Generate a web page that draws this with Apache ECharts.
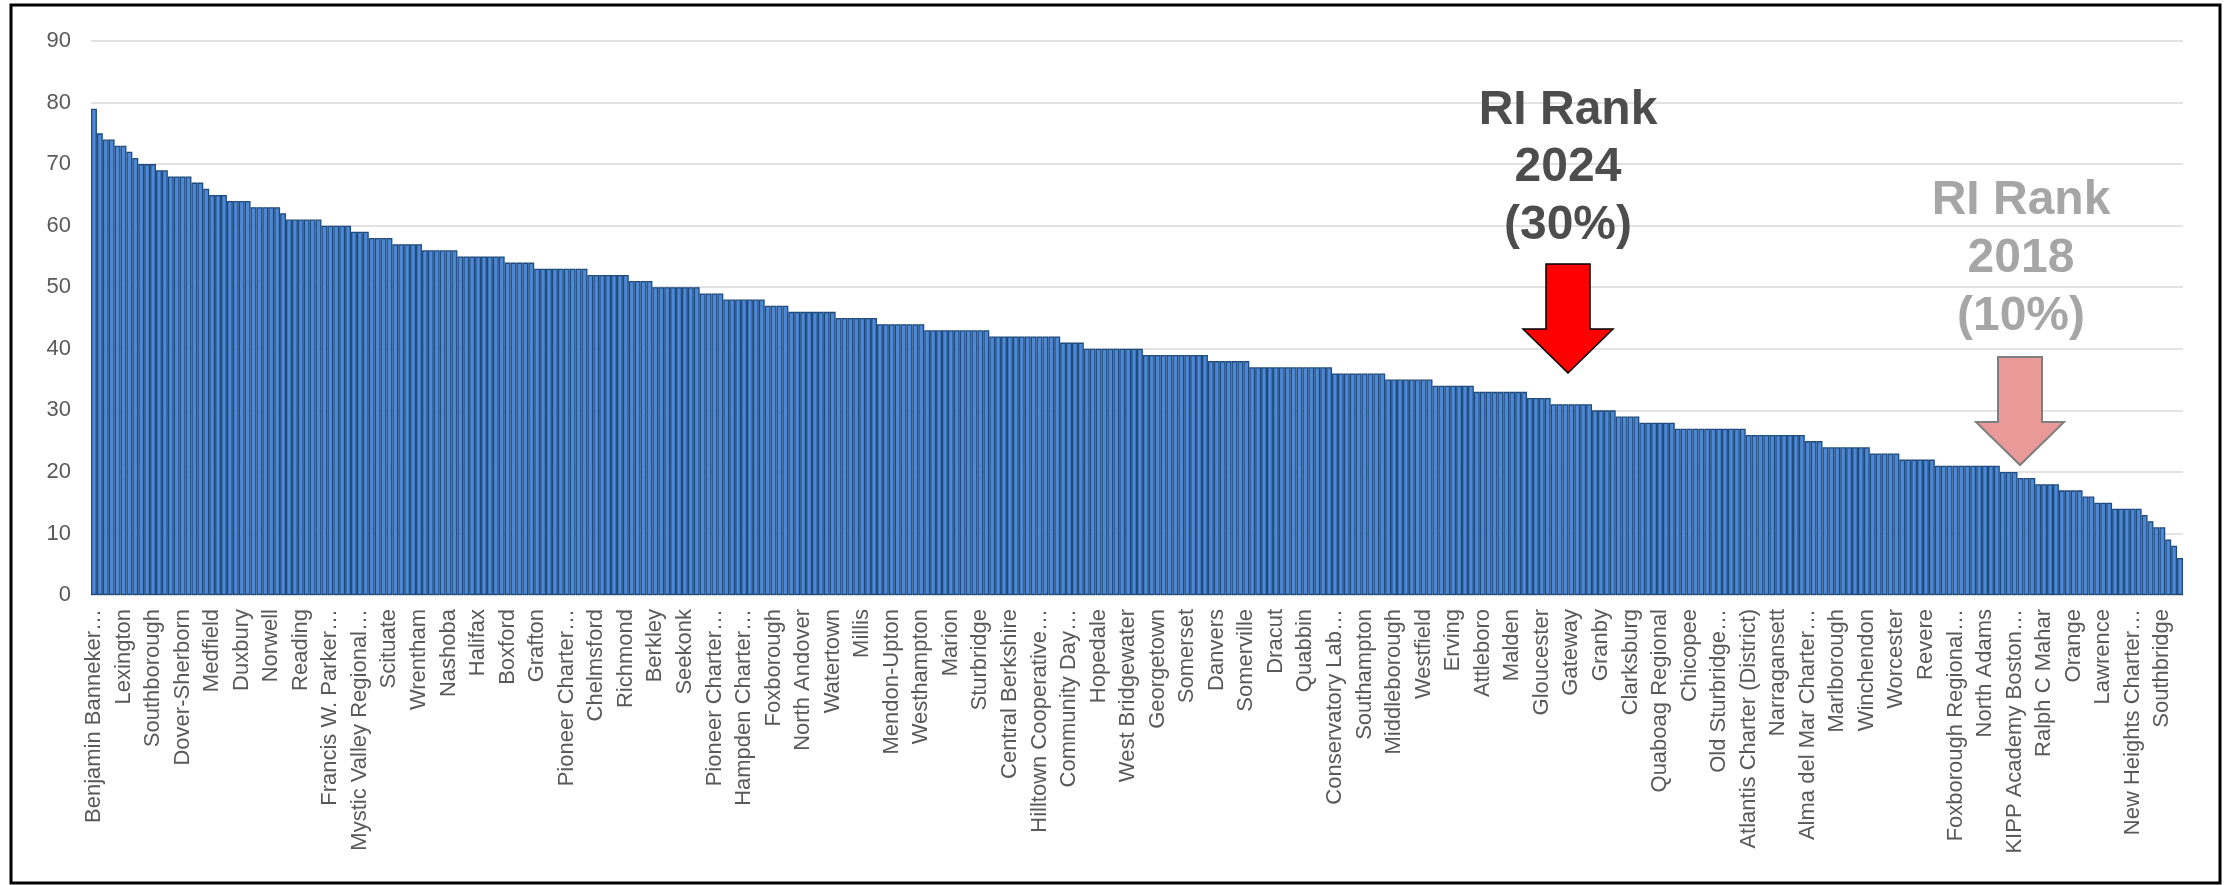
<!DOCTYPE html>
<html>
<head>
<meta charset="utf-8">
<script src="https://cdn.jsdelivr.net/npm/echarts@6/dist/echarts.min.js"></script>
<style>
html,body{margin:0;padding:0;background:#fff;}
#chart{width:2225px;height:885px;}
</style>
</head>
<body>
<div id="chart"></div>
<script>
// Tick labels shown on the category axis (every 5th district)
const tickLabels = [
  "Benjamin Banneker\u2026","Lexington","Southborough","Dover-Sherborn","Medfield",
  "Duxbury","Norwell","Reading","Francis W. Parker\u2026","Mystic Valley Regional\u2026",
  "Scituate","Wrentham","Nashoba","Halifax","Boxford",
  "Grafton","Pioneer Charter\u2026","Chelmsford","Richmond","Berkley",
  "Seekonk","Pioneer Charter\u2026","Hampden Charter\u2026","Foxborough","North Andover",
  "Watertown","Millis","Mendon-Upton","Westhampton","Marion",
  "Sturbridge","Central Berkshire","Hilltown Cooperative\u2026","Community Day\u2026","Hopedale",
  "West Bridgewater","Georgetown","Somerset","Danvers","Somerville",
  "Dracut","Quabbin","Conservatory Lab\u2026","Southampton","Middleborough",
  "Westfield","Erving","Attleboro","Malden","Gloucester",
  "Gateway","Granby","Clarksburg","Quaboag Regional","Chicopee",
  "Old Sturbridge\u2026","Atlantis Charter (District)","Narragansett","Alma del Mar Charter\u2026","Marlborough",
  "Winchendon","Worcester","Revere","Foxborough Regional\u2026","North Adams",
  "KIPP Academy Boston\u2026","Ralph C Mahar","Orange","Lawrence","New Heights Charter\u2026",
  "Southbridge"
];
const labelStep = 5;

// Values per district, sorted descending
const values = [
  79,75,74,74,73,73,72,71,70,70,
  70,69,69,68,68,68,68,67,67,66,
  65,65,65,64,64,64,64,63,63,63,
  63,63,62,61,61,61,61,61,61,60,
  60,60,60,60,59,59,59,58,58,58,
  58,57,57,57,57,57,56,56,56,56,
  56,56,55,55,55,55,55,55,55,55,
  54,54,54,54,54,53,53,53,53,53,
  53,53,53,53,52,52,52,52,52,52,
  52,51,51,51,51,50,50,50,50,50,
  50,50,50,49,49,49,49,48,48,48,
  48,48,48,48,47,47,47,47,46,46,
  46,46,46,46,46,46,45,45,45,45,
  45,45,45,44,44,44,44,44,44,44,
  44,43,43,43,43,43,43,43,43,43,
  43,43,42,42,42,42,42,42,42,42,
  42,42,42,42,41,41,41,41,40,40,
  40,40,40,40,40,40,40,40,39,39,
  39,39,39,39,39,39,39,39,39,38,
  38,38,38,38,38,38,37,37,37,37,
  37,37,37,37,37,37,37,37,37,37,
  36,36,36,36,36,36,36,36,36,35,
  35,35,35,35,35,35,35,34,34,34,
  34,34,34,34,33,33,33,33,33,33,
  33,33,33,32,32,32,32,31,31,31,
  31,31,31,31,30,30,30,30,29,29,
  29,29,28,28,28,28,28,28,27,27,
  27,27,27,27,27,27,27,27,27,27,
  26,26,26,26,26,26,26,26,26,26,
  25,25,25,24,24,24,24,24,24,24,
  24,23,23,23,23,23,22,22,22,22,
  22,22,21,21,21,21,21,21,21,21,
  21,21,21,20,20,20,19,19,19,18,
  18,18,18,17,17,17,17,16,16,15,
  15,15,14,14,14,14,14,13,12,11,
  11,9,8,6
];

// Category list: named where the axis shows a label
const categories = values.map((v, i) => (i % labelStep === 0 ? (tickLabels[i / labelStep] || "") : ""));

const yTicks = { min: 0, max: 90, interval: 10 };

const FONT = "'Liberation Sans', Arial, Helvetica, sans-serif";
const chart = echarts.init(document.getElementById('chart'), null, { renderer: 'canvas' });

function arrow(x, yTop, shaftHalf, headHalf, yHead, yTip, fill, stroke, lw) {
  return {
    type: 'polygon',
    shape: { points: [
      [x - shaftHalf, yTop], [x + shaftHalf, yTop], [x + shaftHalf, yHead],
      [x + headHalf, yHead], [x, yTip], [x - headHalf, yHead], [x - shaftHalf, yHead]
    ] },
    style: { fill: fill, stroke: stroke, lineWidth: lw, lineJoin: 'miter' },
    z: 10
  };
}
function txt(x, y, s, color) {
  return {
    type: 'text', x: x, y: y, z: 10,
    style: { text: s, fill: color, font: "bold 48px " + FONT, textAlign: 'center', textVerticalAlign: 'middle' }
  };
}

chart.setOption({
  animation: false,
  backgroundColor: '#ffffff',
  grid: { left: 91, right: 42, top: 41, bottom: 290, containLabel: false },
  xAxis: {
    type: 'category',
    data: categories,
    axisLine: { show: true, lineStyle: { color: '#D9D9D9', width: 2 } },
    axisTick: { show: false },
    axisLabel: {
      interval: labelStep - 1,
      rotate: 90,
      color: '#595959',
      fontSize: 22,
      fontFamily: FONT,
      margin: 14
    },
    splitLine: { show: false }
  },
  yAxis: {
    type: 'value',
    min: yTicks.min, max: yTicks.max, interval: yTicks.interval,
    axisLine: { show: false },
    axisTick: { show: false },
    axisLabel: { color: '#595959', fontSize: 22, fontFamily: FONT, margin: 20 },
    splitLine: { lineStyle: { color: '#D9D9D9', width: 1.5 } }
  },
  series: [{
    type: 'bar',
    data: values,
    barCategoryGap: '0%',
    itemStyle: { color: '#4D88D6', borderColor: '#1F4A7C', borderWidth: 1.3 }
  }],
  graphic: [
    { type: 'rect', shape: { x: 11, y: 5, width: 2209, height: 878 },
      style: { fill: 'none', stroke: '#000000', lineWidth: 3 }, z: 20 },
    txt(1568, 111, 'RI Rank', '#4D4D4D'),
    txt(1568, 168, '2024', '#4D4D4D'),
    txt(1568, 226, '(30%)', '#4D4D4D'),
    arrow(1568, 264, 22, 45, 329, 373, '#FF0000', '#000000', 1.5),
    txt(2021, 201, 'RI Rank', '#A6A6A6'),
    txt(2021, 259, '2018', '#A6A6A6'),
    txt(2021, 317, '(10%)', '#A6A6A6'),
    arrow(2020, 357, 22, 44, 422, 465, '#EA9999', '#7F7F7F', 2)
  ]
});
</script>
</body>
</html>
